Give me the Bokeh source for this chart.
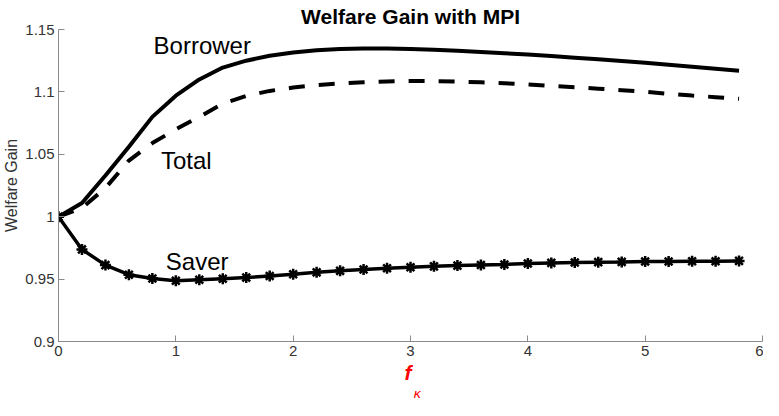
from bokeh.plotting import figure
from bokeh.models import FixedTicker, CustomJSTickFormatter, Label, Title
from bokeh.embed import file_html
from bokeh.resources import INLINE

# ---- data ----
f_kappa = [0.0, 0.2, 0.4, 0.6, 0.8, 1.0, 1.2, 1.4, 1.6, 1.8,
           2.0, 2.2, 2.4, 2.6, 2.8, 3.0, 3.2, 3.4, 3.6, 3.8,
           4.0, 4.2, 4.4, 4.6, 4.8, 5.0, 5.2, 5.4, 5.6, 5.8]
borrower = [1.0, 1.011, 1.033, 1.056, 1.080, 1.097, 1.110, 1.1195, 1.1250, 1.1290,
            1.1316, 1.1334, 1.1344, 1.1348, 1.1347, 1.1343, 1.1337, 1.1329, 1.1320, 1.1310,
            1.1299, 1.1287, 1.1274, 1.1261, 1.1247, 1.1233, 1.1218, 1.1202, 1.1186, 1.1170]
total = [1.0, 1.007, 1.023, 1.045, 1.059, 1.070, 1.080, 1.0905, 1.0968, 1.1008,
         1.1035, 1.1054, 1.1068, 1.1078, 1.1084, 1.1087, 1.1086, 1.1083, 1.1077, 1.1069,
         1.1060, 1.1049, 1.1038, 1.1026, 1.1014, 1.1001, 1.0985, 1.0971, 1.0958, 1.0945]
saver = [1.0, 0.9738, 0.9612, 0.9535, 0.9504, 0.9486, 0.9494, 0.9502, 0.9512, 0.9525,
         0.9539, 0.9554, 0.9566, 0.9577, 0.9587, 0.9595, 0.9602, 0.9608, 0.9613, 0.9617,
         0.9625, 0.9630, 0.9633, 0.9636, 0.9638, 0.9641, 0.9641, 0.9643, 0.9643, 0.9646]

x_ticks = [0, 1, 2, 3, 4, 5, 6]
y_ticks = [0.9, 0.95, 1.0, 1.05, 1.1, 1.15]

series_names = ["Borrower", "Total", "Saver"]
name_x = [0.81, 0.873, 0.915]
name_y = [1.137, 1.0451, 0.964]

title_text = "Welfare Gain with MPI"
ylabel_text = "Welfare Gain"
xlabel_main = "f"
xlabel_sub = "κ"

FONT = "Liberation Sans"
AXIS_GRAY = "#8a8a8a"
TEXT_GRAY = "#333333"

p = figure(width=763, height=400, output_backend="svg", toolbar_location=None,
           x_range=(0, 6), y_range=(0.9, 1.15),
           min_border_left=54, min_border_right=1, min_border_top=27, min_border_bottom=56)
p.outline_line_color = None
p.grid.visible = False
p.background_fill_color = "white"
p.border_fill_color = "white"

p.title.text = title_text
p.title.text_font = FONT
p.title.text_font_size = "21px"
p.title.text_font_style = "bold"
p.title.align = "center"
p.title.text_color = "black"
p.title.standoff = 4

for ax in (p.xaxis[0], p.yaxis[0]):
    ax.axis_line_color = AXIS_GRAY
    ax.axis_line_width = 1
    ax.major_tick_line_color = AXIS_GRAY
    ax.major_tick_in = 6
    ax.major_tick_out = 0
    ax.minor_tick_line_color = None
    ax.major_label_text_font = FONT
    ax.major_label_text_font_size = "15px"
    ax.major_label_text_color = TEXT_GRAY

p.xaxis.ticker = FixedTicker(ticks=x_ticks)
p.yaxis.ticker = FixedTicker(ticks=y_ticks)
p.yaxis.formatter = CustomJSTickFormatter(code="return String(Math.round(tick*100)/100);")
p.xaxis.major_label_standoff = 4
p.yaxis.major_label_standoff = 4

p.yaxis.axis_label = ylabel_text
p.yaxis.axis_label_text_font = FONT
p.yaxis.axis_label_text_font_size = "16px"
p.yaxis.axis_label_text_font_style = "normal"
p.yaxis.axis_label_text_color = TEXT_GRAY
p.yaxis.axis_label_standoff = 2

# curves
p.line(f_kappa, borrower, line_color="black", line_width=4)
p.line(f_kappa, total, line_color="black", line_width=4, line_dash="16 14")
p.line(f_kappa, saver, line_color="black", line_width=3.5)
p.scatter(f_kappa, saver, marker="asterisk", size=11, line_color="black", line_width=2.5)

# series names
for nm, nx, ny in zip(series_names, name_x, name_y):
    p.add_layout(Label(x=nx, y=ny, text=nm, text_font=FONT, text_font_size="24px",
                       text_color="black", text_align="left", text_baseline="middle"))

# x label: red f with subscript kappa, stacked below the axis
p.add_layout(Title(text=xlabel_main, align="left", offset=346, standoff=0,
                   text_font=FONT, text_font_size="21px", text_font_style="bold italic",
                   text_color="red"), "below")
p.add_layout(Title(text=xlabel_sub, align="left", offset=355, standoff=0,
                   text_font="DejaVu Sans", text_font_size="13px", text_font_style="italic",
                   text_color="red"), "below")

open("out.html", "w").write(file_html(p, INLINE))
